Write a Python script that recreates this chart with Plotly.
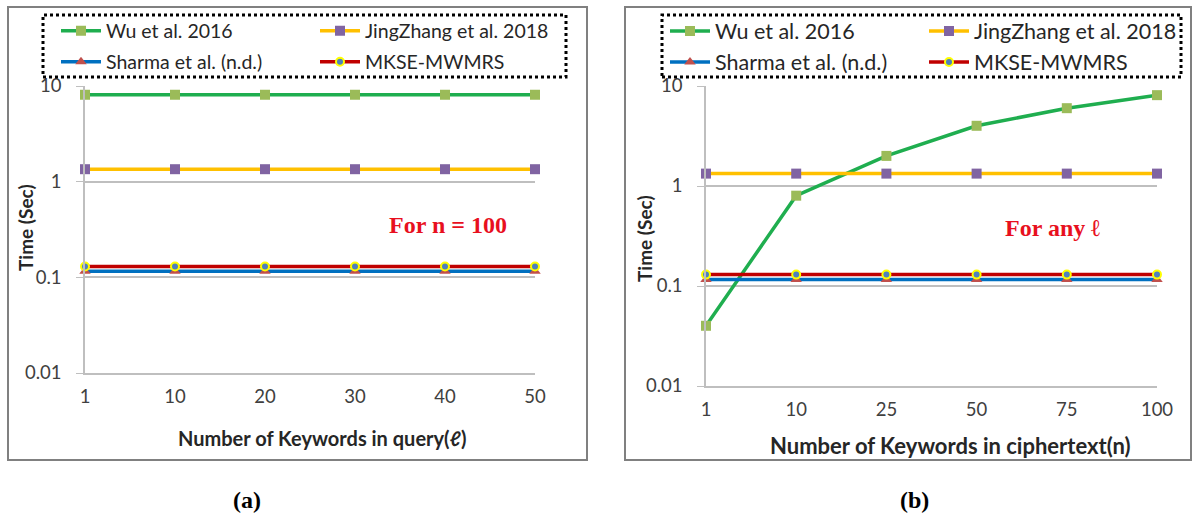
import plotly.graph_objects as go

W, H = 1194, 516

# data
query_kw = ["1", "10", "20", "30", "40", "50"]
cipher_kw = ["1", "10", "25", "50", "75", "100"]

wu_a = [8.1, 8.1, 8.1, 8.1, 8.1, 8.1]
jing_a = [1.35, 1.35, 1.35, 1.35, 1.35, 1.35]
sharma_a = [0.116, 0.116, 0.116, 0.116, 0.116, 0.116]
mkse_a = [0.13, 0.13, 0.13, 0.13, 0.13, 0.13]

wu_b = [0.04, 0.8, 2.0, 4.0, 6.0, 8.1]
jing_b = [1.33, 1.33, 1.33, 1.33, 1.33, 1.33]
sharma_b = [0.116, 0.116, 0.116, 0.116, 0.116, 0.116]
mkse_b = [0.13, 0.13, 0.13, 0.13, 0.13, 0.13]

names = ["Wu et al. 2016", "JingZhang et al. 2018", "Sharma et al. (n.d.)", "MKSE-MWMRS"]
line_cols = ["#1fae4f", "#ffc000", "#0070c0", "#c00000"]
mk_cols = ["#9bbb59", "#8064a2", "#c0504d", "#4f81bd"]
mk_syms = ["square", "square", "triangle-up", "circle"]
mk_sizes = [10, 10, 10, 8]
mk_lines = [dict(width=0), dict(width=0), dict(width=0), dict(color="#ffff00", width=2)]


def px_x(p):
    return p / W


def px_y(p):
    return 1 - p / H


fig = go.Figure()

panels = [
    dict(cats=query_kw, series=[wu_a, jing_a, sharma_a, mkse_a], xa="x", ya="y",
         legs=["legend", "legend", "legend3", "legend3"]),
    dict(cats=cipher_kw, series=[wu_b, jing_b, sharma_b, mkse_b], xa="x2", ya="y2",
         legs=["legend2", "legend2", "legend4", "legend4"]),
]

for p in panels:
    for i in range(4):
        fig.add_trace(go.Scatter(
            x=p["cats"], y=p["series"][i], name=names[i],
            mode="lines+markers", xaxis=p["xa"], yaxis=p["ya"],
            legend=p["legs"][i], cliponaxis=False,
            line=dict(color=line_cols[i], width=3.5),
            marker=dict(symbol=mk_syms[i], size=mk_sizes[i], color=mk_cols[i], line=mk_lines[i]),
        ))

grid = "#bfbfbf"
tick_font = dict(family="Lato", size=18.5, color="#404040")

common_y = dict(type="log", range=[-2, 1], tickvals=[0.01, 0.1, 1, 10],
                ticktext=["0.01", "0.1", "1", "10"], showgrid=True, gridcolor=grid,
                gridwidth=1.5, showline=True, linecolor=grid, linewidth=1.5,
                ticks="outside", ticklen=7, tickcolor=grid, tickfont=tick_font,
                ticklabelstandoff=11, zeroline=False)
common_x = dict(type="category", range=[0, 5], autorange=False, showgrid=False,
                showline=True, linecolor=grid, linewidth=1.5, ticks="",
                tickfont=tick_font, ticklabelstandoff=6, zeroline=False)

fig.update_layout(
    width=W, height=H, margin=dict(l=0, r=0, t=0, b=0, autoexpand=False),
    paper_bgcolor="white", plot_bgcolor="white",
    xaxis=dict(common_x, domain=[px_x(85), px_x(535)], anchor="y"),
    yaxis=dict(common_y, domain=[px_y(373), px_y(86)], anchor="x"),
    xaxis2=dict(common_x, domain=[px_x(706), px_x(1157)], anchor="y2"),
    yaxis2=dict(common_y, domain=[px_y(386), px_y(86)], anchor="x2"),
)

leg_common = dict(orientation="h", bgcolor="rgba(0,0,0,0)", borderwidth=0,
                  xanchor="left", yanchor="middle", itemwidth=40,
                  entrywidthmode="pixels", itemclick=False)
fig.update_layout(
    legend=dict(leg_common, x=px_x(56), y=px_y(31), entrywidth=204,
                font=dict(family="Lato", size=19.5, color="#262626")),
    legend3=dict(leg_common, x=px_x(56), y=px_y(62), entrywidth=204,
                 font=dict(family="Lato", size=19.5, color="#262626")),
    legend2=dict(leg_common, x=px_x(665), y=px_y(31), entrywidth=204,
                 font=dict(family="Lato", size=21.5, color="#262626")),
    legend4=dict(leg_common, x=px_x(665), y=px_y(62), entrywidth=204,
                 font=dict(family="Lato", size=21.5, color="#262626")),
)

shapes = []
# outer panel frames
for x0, x1 in [(8, 587), (625, 1191)]:
    shapes.append(dict(type="rect", xref="paper", yref="paper",
                       x0=px_x(x0), x1=px_x(x1), y0=px_y(460), y1=px_y(7),
                       line=dict(color="#808080", width=2)))
# dotted legend frames
for x0, x1 in [(43, 566), (662, 1181)]:
    shapes.append(dict(type="rect", xref="paper", yref="paper",
                       x0=px_x(x0), x1=px_x(x1), y0=px_y(77), y1=px_y(15),
                       line=dict(color="black", width=3, dash="dot")))
# category tick marks where the horizontal axis crosses at 1
for p in panels:
    for c in p["cats"]:
        shapes.append(dict(type="line", xref=p["xa"], yref=p["ya"],
                           ysizemode="pixel", yanchor=1, y0=0, y1=-6,
                           x0=c, x1=c, line=dict(color=grid, width=1.5)))
fig.update_layout(shapes=shapes)

title_font = dict(family="Lato", size=19, color="#262626")
ann = [
    dict(x=px_x(25), y=px_y(228), text="<b>Time (Sec)</b>", textangle=-90, font=title_font),
    dict(x=px_x(645), y=px_y(238), text="<b>Time (Sec)</b>", textangle=-90, font=title_font),
    dict(x=px_x(322), y=px_y(438), text="<b>Number of Keywords in query(ℓ)</b>",
         font=dict(title_font, size=20)),
    dict(x=px_x(950), y=px_y(445), text="<b>Number of Keywords in ciphertext(n)</b>",
         font=dict(title_font, size=22)),
    dict(x=px_x(448), y=px_y(225), text="<b>For n = 100</b>",
         font=dict(family="Liberation Serif", size=24, color="#e8101e")),
    dict(x=px_x(1052), y=px_y(228), text="<b>For any ℓ</b>",
         font=dict(family="Liberation Serif", size=24, color="#e8101e")),
    dict(x=px_x(247), y=px_y(500), text="<b>(a)</b>",
         font=dict(family="Liberation Serif", size=24, color="black")),
    dict(x=px_x(914), y=px_y(500), text="<b>(b)</b>",
         font=dict(family="Liberation Serif", size=24, color="black")),
]
for a in ann:
    a.update(xref="paper", yref="paper", showarrow=False, xanchor="center", yanchor="middle")
fig.update_layout(annotations=ann)

fig.write_html("out.html", config={"displayModeBar": False},
               post_script="document.body.style.margin='0';document.body.style.overflow='hidden';")
